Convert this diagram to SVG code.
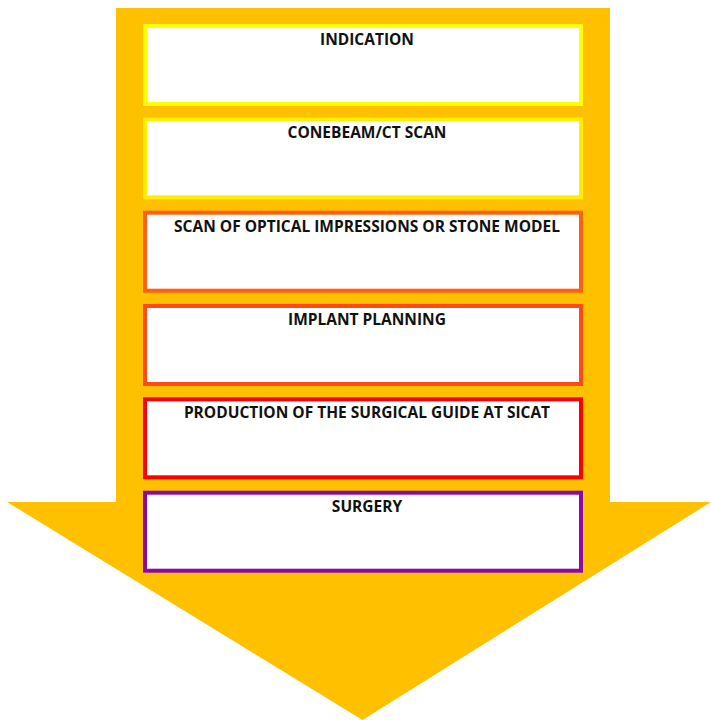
<svg xmlns="http://www.w3.org/2000/svg" width="711" height="720" viewBox="0 0 711 720">
<style>
.box{fill:#fff;stroke-width:4}
.lbl{font-family:"Open Sans","Liberation Sans",sans-serif;font-weight:bold;font-size:15.5px;fill:#111;text-anchor:middle}
</style>
<rect width="711" height="720" fill="#fff"/>
<g id="arrow">
<polygon points="116,8 610,8 610,502 711,502 362.5,720 7,502 116,502" fill="#FFC000"/>
</g>
<g id="connectors"></g>
<g id="n1"><rect class="box" x="145" y="26" width="436" height="78" stroke="#FFFF00"/><text class="lbl" x="367" y="45">INDICATION</text></g>
<g id="n2"><rect class="box" x="145" y="119.3" width="436" height="78" stroke="#FFEE00"/><text class="lbl" x="367" y="138.3">CONEBEAM/CT SCAN</text></g>
<g id="n3"><rect class="box" x="145" y="212.7" width="436" height="78" stroke="#FF6010"/><text class="lbl" x="367" y="231.7">SCAN OF OPTICAL IMPRESSIONS OR STONE MODEL</text></g>
<g id="n4"><rect class="box" x="145" y="306" width="436" height="78" stroke="#FF4A18"/><text class="lbl" x="367" y="325">IMPLANT PLANNING</text></g>
<g id="n5"><rect class="box" x="145" y="399.3" width="436" height="78" stroke="#FF0000"/><text class="lbl" x="367" y="418.3">PRODUCTION OF THE SURGICAL GUIDE AT SICAT</text></g>
<g id="n6"><rect class="box" x="145" y="492.7" width="436" height="78" stroke="#8B0AA5"/><text class="lbl" x="367" y="511.7">SURGERY</text></g>
</svg>
